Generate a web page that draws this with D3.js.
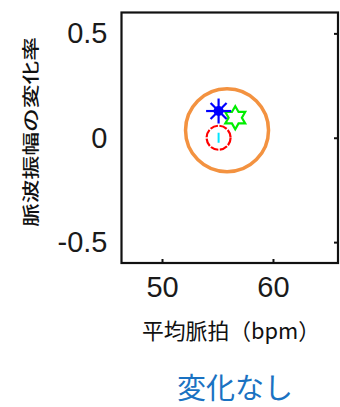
<!DOCTYPE html>
<html>
<head>
<meta charset="utf-8">
<script src="https://cdn.jsdelivr.net/npm/d3@7"></script>
<style>
  html, body { margin: 0; padding: 0; background: #fff; }
  svg { display: block; }
</style>
</head>
<body>
<svg id="chart" width="340" height="407"></svg>
<script>
// ---- data ----
const seriesNames = ["asterisk", "hexagram", "circle", "bar"];
const xValues = [55.1, 56.6, 55.1, 55.1];   // 平均脈拍 (bpm)
const yValues = [0.128, 0.096, 0.0, 0.0];   // 脈波振幅の変化率
const barHalf = [0, 0, 0, 0.024];
const xTicks = [50, 60];
const yTicks = [-0.5, 0, 0.5];
const xDomain = [46.35, 65.86];
const yDomain = [-0.6, 0.6];
const highlightCenter = [55.86, 0.036];
const xLabel = "平均脈拍（bpm）";
const yLabel = "脈波振幅の変化率";
const caption = "変化なし";

// ---- layout ----
const svg = d3.select("#chart");
const L = 121.5, R = 338, T = 12.5, B = 263;
const x = d3.scaleLinear().domain(xDomain).range([L, R]);
const y = d3.scaleLinear().domain(yDomain).range([B, T]);

const tickFont = "'Liberation Sans', Arial, sans-serif";
const cjkFont = "'Noto Sans CJK JP', 'Noto Sans', sans-serif";

// frame
svg.append("rect")
  .attr("x", L).attr("y", T).attr("width", R - L).attr("height", B - T)
  .attr("fill", "#fff").attr("stroke", "#111").attr("stroke-width", 2.2);

// bottom axis (inward ticks + labels)
const gx = svg.append("g").attr("transform", `translate(0,${B})`)
  .call(d3.axisBottom(x).tickValues(xTicks).tickSizeInner(-4).tickSizeOuter(0)
        .tickPadding(13).tickFormat(d => String(d)));
gx.select(".domain").remove();
gx.selectAll("line").attr("stroke", "#111").attr("stroke-width", 2);
gx.selectAll("text").attr("font-family", tickFont).attr("font-size", 29)
  .attr("fill", "#1a1a1a");

// left axis (labels only)
const gy = svg.append("g").attr("transform", `translate(${L},0)`)
  .call(d3.axisLeft(y).tickValues(yTicks).tickSizeInner(0).tickSizeOuter(0)
        .tickPadding(14).tickFormat(d => String(d)));
gy.select(".domain").remove();
gy.selectAll("line").remove();
gy.selectAll("text").attr("font-family", tickFont).attr("font-size", 29)
  .attr("fill", "#1a1a1a");

// right axis (inward ticks)
const gr = svg.append("g").attr("transform", `translate(${R},0)`)
  .call(d3.axisRight(y).tickValues(yTicks).tickSizeInner(-4).tickSizeOuter(0)
        .tickFormat(""));
gr.select(".domain").remove();
gr.selectAll("line").attr("stroke", "#111").attr("stroke-width", 2);

// ---- markers ----
const g = svg.append("g");
const pts = seriesNames.map((n, i) => ({ name: n, x: xValues[i], y: yValues[i], h: barHalf[i] }));

// red circle
pts.filter(d => d.name === "circle").forEach(d => {
  g.append("circle").attr("cx", x(d.x)).attr("cy", y(d.y)).attr("r", 12)
    .attr("fill", "none").attr("stroke", "#ff0000").attr("stroke-width", 2.2)
    .attr("stroke-dasharray", "8 1.5");
});
// cyan bar
pts.filter(d => d.name === "bar").forEach(d => {
  g.append("line").attr("x1", x(d.x)).attr("x2", x(d.x))
    .attr("y1", y(d.y + d.h)).attr("y2", y(d.y - d.h))
    .attr("stroke", "#00e5ff").attr("stroke-width", 2);
});
// green hexagram
pts.filter(d => d.name === "hexagram").forEach(d => {
  const ro = 11.5, ri = ro / Math.sqrt(3);
  const pp = [];
  for (let k = 0; k < 12; k++) {
    const a = (90 + k * 30) * Math.PI / 180;
    const r = k % 2 === 0 ? ro : ri;
    pp.push([x(d.x) + r * Math.cos(a), y(d.y) - r * Math.sin(a)]);
  }
  g.append("path").attr("d", "M" + pp.map(p => p.join(",")).join("L") + "Z")
    .attr("fill", "none").attr("stroke", "#00ee00").attr("stroke-width", 2.2);
});
// blue asterisk
pts.filter(d => d.name === "asterisk").forEach(d => {
  const cx = x(d.x), cy = y(d.y), r1 = 12.5, r2 = 8;
  const a = g.append("g").attr("stroke", "#0000ff").attr("stroke-width", 2.2);
  a.append("line").attr("x1", cx - r1).attr("x2", cx + r1).attr("y1", cy).attr("y2", cy);
  a.append("line").attr("x1", cx).attr("x2", cx).attr("y1", cy - r1).attr("y2", cy + r1);
  a.append("line").attr("x1", cx - r2).attr("x2", cx + r2).attr("y1", cy - r2).attr("y2", cy + r2);
  a.append("line").attr("x1", cx - r2).attr("x2", cx + r2).attr("y1", cy + r2).attr("y2", cy - r2);
  g.append("circle").attr("cx", cx).attr("cy", cy).attr("r", 5).attr("fill", "#0000ff");
});

// orange highlight circle
svg.append("circle").attr("cx", x(highlightCenter[0])).attr("cy", y(highlightCenter[1]))
  .attr("r", 41.5).attr("fill", "none").attr("stroke", "#f39240").attr("stroke-width", 3.5);

// ---- labels ----
svg.append("text").attr("x", 231).attr("y", 339).attr("text-anchor", "middle")
  .attr("font-family", cjkFont).attr("font-size", 22).attr("fill", "#111")
  .attr("textLength", 178).attr("lengthAdjust", "spacingAndGlyphs")
  .text(xLabel);

svg.append("text").attr("transform", "translate(29,132) rotate(-90)")
  .attr("text-anchor", "middle").attr("dominant-baseline", "central")
  .attr("font-family", cjkFont).attr("font-size", 17).attr("font-weight", 500)
  .attr("fill", "#111")
  .attr("textLength", 190).attr("lengthAdjust", "spacingAndGlyphs")
  .text(yLabel);

svg.append("text").attr("x", 235).attr("y", 399).attr("text-anchor", "middle")
  .attr("font-family", cjkFont).attr("font-size", 29).attr("fill", "#1a72c2")
  .text(caption);
</script>
</body>
</html>
